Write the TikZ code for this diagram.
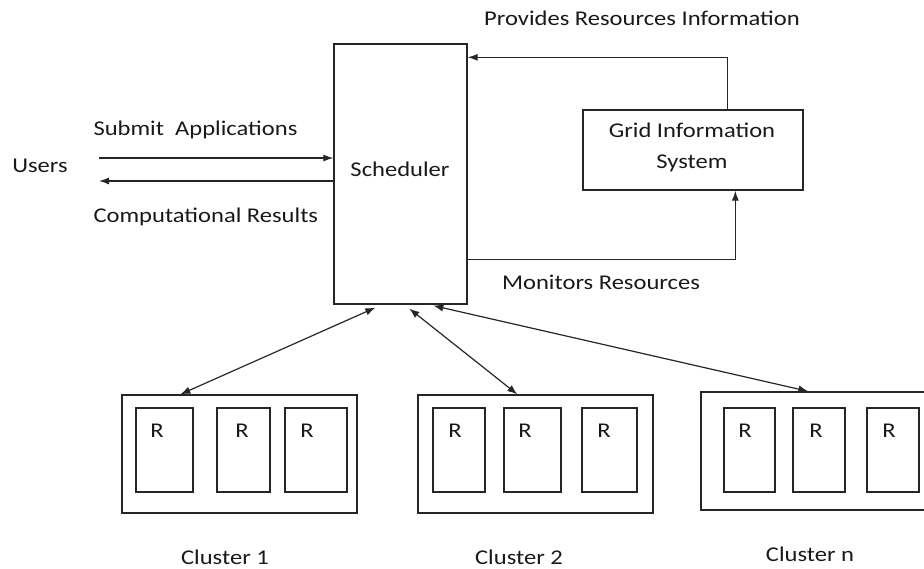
\documentclass[tikz,border=0pt]{standalone}
\usepackage{fontspec}
\setmainfont{Carlito}[FakeStretch=1.17]
\usetikzlibrary{arrows.meta,calc}
\begin{document}
\begin{tikzpicture}[x=1pt,y=-1pt,
  every node/.style={font=\fontsize{21}{25}\selectfont, text=black!90},
  box/.style={draw=black!85, line width=1.3pt, inner sep=0pt},
  rbox/.style={box, minimum height=84pt},
  clbox/.style={box, minimum width=235pt, minimum height=118pt},
  arr/.style={draw=black!85, line width=1.2pt, -{Latex[length=10pt,width=7pt]}},
  darr/.style={draw=black!85, line width=1.2pt, {Latex[length=10pt,width=7.5pt]}-{Latex[length=10pt,width=7.5pt]}}]
\useasboundingbox (0,0) rectangle (924,568);
% main boxes
\node[box, minimum width=133pt, minimum height=260pt] (sch) at (400.5,174) {};
\node (schl) at (400,169) {Scheduler};
\node[box, minimum width=220pt, minimum height=80pt] (gis) at (693,150) {};
\node[align=center, font=\fontsize{21}{31}\selectfont] (gisl) at (692,147) {Grid Information\\System};
% users
\node (users) at (40,166) {Users};
\coordinate (uin) at (99,158);
\coordinate (uout) at (99,181);
\draw[arr] (uin) -- (uin -| sch.west);
\draw[arr] (uout -| sch.west) -- (uout);
\node[anchor=west] (sub) at (90,130) {Submit\ \ Applications};
\node[anchor=west] (res) at (90,217) {Computational Results};
% GIS arrows
\draw[arr] ($(gis.north west)+(145,0)$) |- ($(sch.north east)+(0,14)$);
\draw[arr] ($(sch.north east)+(0,216)$) -| ($(gis.south west)+(153,0)$);
\node (prov) at (642,18) {Provides Resources Information};
\node (mon) at (601,282) {Monitors Resources};
% clusters
\node[clbox] (c1) at (239.5,454) {};
\node[clbox] (c2) at (535.5,454) {};
\node[clbox] (cn) at (818.5,451) {};
\node[rbox, minimum width=57pt] (r11) at (164.5,450) {};
\node[rbox, minimum width=53pt] (r12) at (243.5,450) {};
\node[rbox, minimum width=62pt] (r13) at (316,450) {};
\node[rbox, minimum width=52pt] (r21) at (459,450) {};
\node[rbox, minimum width=57pt] (r22) at (532.5,450) {};
\node[rbox, minimum width=55pt] (r23) at (609.5,450) {};
\node[rbox, minimum width=51pt] (r31) at (749.5,450) {};
\node[rbox, minimum width=52pt] (r32) at (819,450) {};
\node[rbox, minimum width=52pt] (r33) at (893,450) {};
\node (l11) at (157,431) {R};
\node (l12) at (242,431) {R};
\node (l13) at (307,431) {R};
\node (l21) at (455,431) {R};
\node (l22) at (525,431) {R};
\node (l23) at (604,431) {R};
\node (l31) at (745,431) {R};
\node (l32) at (816,431) {R};
\node (l33) at (889,431) {R};
\node (cl1) at (225,557) {Cluster 1};
\node (cl2) at (519,557) {Cluster 2};
\node (cln) at (810,554) {Cluster n};
% cluster arrows
\draw[darr] ($(sch.south west)+(42,3)$) -- ($(c1.north west)+(59,0)$);
\draw[darr] ($(sch.south west)+(76,4)$) -- ($(c2.north west)+(100,0)$);
\draw[darr] ($(sch.south west)+(100,1)$) -- ($(cn.north west)+(108,0)$);
\end{tikzpicture}
\end{document}
